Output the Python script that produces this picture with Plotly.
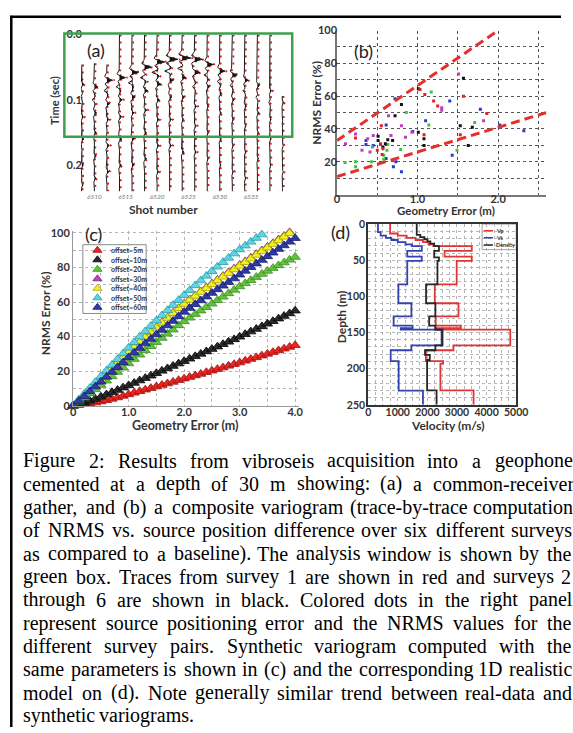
import numpy as np
import plotly.graph_objects as go

W, H = 573, 733

# ---------------- (a) common-receiver gather ----------------
SHOTS = [6508, 6510, 6512, 6514, 6516, 6518, 6520, 6522, 6524, 6526, 6528,
         6530, 6532, 6534, 6536, 6538, 6540]
TRACE_START = [0.046, 0.044, 0.046, 0.0, 0.0, 0.0, 0.0, 0.0, 0.0, 0.0, 0.0,
               0.0, 0.0, 0.0, 0.0, 0.0, 0.094]
EVENT_T = [
    [0.076, 0.096, 0.126, 0.160, 0.200, 0.230],
    [0.080, 0.100, 0.120, 0.150, 0.186, 0.220],
    [0.070, 0.086, 0.106, 0.130, 0.170, 0.210],
    [0.066, 0.080, 0.100, 0.126, 0.160, 0.200],
    [0.058, 0.074, 0.096, 0.120, 0.160, 0.200],
    [0.050, 0.066, 0.086, 0.116, 0.150, 0.190],
    [0.042, 0.058, 0.076, 0.100, 0.130, 0.170, 0.210],
    [0.038, 0.056, 0.070, 0.096, 0.130, 0.170],
    [0.036, 0.052, 0.066, 0.096, 0.130, 0.180],
    [0.038, 0.058, 0.080, 0.110, 0.140, 0.180],
    [0.046, 0.062, 0.080, 0.110, 0.150, 0.190],
    [0.056, 0.072, 0.090, 0.120, 0.160, 0.200],
    [0.062, 0.078, 0.100, 0.130, 0.170, 0.210],
    [0.070, 0.086, 0.110, 0.140, 0.180, 0.220],
    [0.078, 0.096, 0.120, 0.150, 0.190],
    [0.086, 0.104, 0.130, 0.160, 0.200],
    [0.104, 0.130, 0.170, 0.210],
]
EVENT_A = [
    [0.5, -0.4, 0.4, 0.5, 0.4, 0.3],
    [0.9, -0.6, 0.6, 0.5, 0.5, 0.4],
    [1.5, -0.8, 0.7, 0.5, 0.6, 0.5],
    [1.6, -0.9, 0.7, 0.6, 0.6, 0.5],
    [1.7, -1.0, 0.8, 0.5, 0.6, 0.5],
    [1.8, -1.1, 0.8, 0.6, 0.5, 0.5],
    [2.0, -1.4, 1.0, 0.6, 0.5, 0.5, 0.4],
    [2.2, -1.3, 1.0, 0.6, 0.5, 0.5],
    [2.3, -1.2, 1.0, 0.6, 0.4, 0.5],
    [2.0, 1.4, -0.6, 0.5, 0.4, 0.4],
    [1.6, -0.8, 0.6, 0.4, 0.4, 0.3],
    [1.4, -0.7, 0.5, 0.4, 0.4, 0.3],
    [1.3, -0.6, 0.5, 0.4, 0.3, 0.3],
    [0.9, -0.5, 0.4, 0.3, 0.3, 0.3],
    [0.6, -0.4, 0.4, 0.3, 0.3],
    [0.4, -0.3, 0.3, 0.3, 0.2],
    [0.3, 0.2, 0.2, 0.2],
]
WAVELET = [0.0, -0.05, -0.15, -0.3, -0.4, -0.2, 0.35, 1.0, 0.35, -0.2, -0.4,
           -0.3, -0.15, -0.05, 0.0]
DT = 0.002
T_MAX = 0.240
TIME_TICKS = [0.0, 0.1, 0.2]
TIME_TICK_TEXT = ["0.0", "0.1", "0.2"]
SHOT_TICKS = [6510, 6515, 6520, 6525, 6530, 6535]

# ---------------- (b) composite variogram (field data) ----------------
BLUE_X = [0.36, 0.36, 0.45, 0.61, 0.72, 0.73, 0.80, 0.94, 1.10, 1.40, 1.43, 1.78, 2.02, 2.32, 0.61, 0.70]
BLUE_Y = [33, 30.5, 30, 42.5, 58.5, 20, 14, 38.5, 45, 57, 24, 52, 42.5, 39, 22, 17]
MAGENTA_X = [0.105, 0.23, 0.31, 0.41, 0.45, 0.67, 0.64, 0.80, 0.85, 0.93, 1.30, 1.30, 1.51, 1.82, 0.38]
MAGENTA_Y = [31, 37, 27, 26, 36, 36, 48, 42, 35, 38, 53, 51.5, 73.5, 45, 34]
GREEN_X = [0.10, 0.23, 0.23, 0.43, 0.58, 0.58, 0.63, 0.86, 0.79, 1.17, 1.14, 1.49, 1.71, 0.44, 0.62]
GREEN_Y = [19.5, 20, 17, 20, 24, 21.5, 30.5, 50, 27.5, 62.5, 42.5, 27, 44, 29, 27]
BLACK_X = [0.51, 0.51, 0.57, 0.63, 0.69, 0.80, 0.72, 1.01, 1.01, 1.08, 1.08, 1.57, 1.53, 1.63, 1.68, 0.60]
BLACK_Y = [35.5, 33, 29, 33.5, 33, 55, 48, 38, 64.5, 34, 30, 71, 42, 30, 41, 31]
RED_X = [0.23, 0.54, 0.55, 0.57, 0.56, 1.03, 1.09, 1.20, 1.25, 1.08, 1.57, 1.53, 1.86, 0.50]
RED_Y = [34.5, 31, 42, 28, 24.5, 64, 61, 57, 54, 36.5, 60, 36.5, 49.5, 27]
UPPER_X = [0.0, 2.0]
UPPER_Y = [33, 100]
LOWER_X = [0.0, 2.6]
LOWER_Y = [11, 50]

# ---------------- (c) synthetic variogram ----------------
GEOM_ERR = [0.0, 0.1, 0.2, 0.3, 0.4, 0.5, 0.6, 0.7, 0.8, 0.9, 1.0, 1.1, 1.2, 1.3,
            1.4, 1.5, 1.6, 1.7, 1.8, 1.9, 2.0, 2.1, 2.2, 2.3, 2.4, 2.5, 2.6, 2.7,
            2.8, 2.9, 3.0, 3.1, 3.2, 3.3, 3.4, 3.5, 3.6, 3.7, 3.8, 3.9, 4.0]
OFFSET_NAMES = ["offset=5m", "offset=10m", "offset=20m", "offset=30m",
                "offset=40m", "offset=50m", "offset=60m"]
NRMS_5M = [0.0, 0.4, 0.9, 1.4, 1.9, 2.5, 3.2, 4.0, 4.8, 5.7, 6.6, 7.5, 8.4, 9.3,
           10.2, 11.1, 12.0, 12.9, 13.8, 14.8, 15.7, 16.6, 17.5, 18.4, 19.4, 20.3,
           21.2, 22.1, 23.1, 24.0, 25.0, 26.0, 27.0, 28.0, 29.0, 30.0, 31.0, 32.0,
           33.0, 34.0, 35.0]
NRMS_10M = [0.0, 0.8, 1.8, 2.9, 4.0, 5.2, 6.5, 7.8, 9.1, 10.5, 11.8, 13.2, 14.6,
            16.0, 17.4, 18.8, 20.2, 21.6, 23.0, 24.4, 25.8, 27.2, 28.6, 30.0, 31.4,
            32.8, 34.2, 35.6, 37.0, 38.4, 39.9, 41.4, 42.9, 44.4, 45.9, 47.4, 48.9,
            50.4, 51.9, 53.4, 55.0]
NRMS_20M = [0.0, 2.3, 4.7, 7.1, 9.5, 12.0, 14.5, 17.0, 19.5, 22.0, 24.5, 27.0,
            29.5, 32.0, 34.4, 36.8, 39.2, 41.6, 44.0, 46.5, 48.8, 50.9, 53.0, 55.0,
            57.0, 59.0, 61.0, 63.0, 65.0, 67.0, 69.0, 70.8, 72.6, 74.4, 76.2, 78.0,
            79.6, 81.2, 82.8, 84.4, 86.0]
NRMS_30M = [0.0, 3.0, 6.1, 9.2, 12.3, 15.5, 18.6, 21.7, 24.8, 27.9, 31.0, 34.0,
            36.9, 39.8, 42.6, 45.4, 48.2, 51.0, 53.7, 56.4, 59.1, 61.5, 63.8, 66.1,
            68.4, 70.6, 72.8, 75.0, 77.2, 79.3, 81.4, 83.5, 85.6, 87.7, 89.8, 91.9,
            94.0, 96.1, 98.2, 100.3]
NRMS_40M = [0.0, 3.0, 6.1, 9.2, 12.3, 15.4, 18.5, 21.6, 24.7, 27.8, 30.9, 33.8,
            36.7, 39.6, 42.4, 45.2, 48.0, 50.8, 53.5, 56.2, 58.9, 61.2, 63.5, 65.8,
            68.0, 70.2, 72.4, 74.6, 76.7, 78.8, 80.9, 83.0, 85.1, 87.2, 89.3, 91.4,
            93.5, 95.6, 97.7, 99.8]
NRMS_50M = [0.0, 3.4, 6.8, 10.2, 13.6, 17.0, 20.3, 23.6, 26.9, 30.2, 33.5, 36.7,
            39.9, 43.0, 46.1, 49.2, 52.2, 55.2, 58.2, 61.1, 64.0, 66.8, 69.6, 72.4,
            75.1, 77.8, 80.4, 83.0, 85.5, 88.0, 90.4, 92.6, 94.8, 97.0, 99.0]
NRMS_60M = [0.0, 2.7, 5.5, 8.3, 11.1, 13.9, 16.7, 19.5, 22.3, 25.1, 28.0, 30.7,
            33.4, 36.0, 38.6, 41.2, 43.8, 46.4, 49.0, 51.7, 54.3, 56.5, 58.7, 60.9,
            63.1, 65.2, 67.3, 69.4, 71.5, 73.6, 75.8, 78.0, 80.1, 82.2, 84.3, 86.4,
            88.5, 90.6, 92.7, 94.8, 96.9]
OFFSET_SERIES = [NRMS_5M, NRMS_10M, NRMS_20M, NRMS_30M, NRMS_40M, NRMS_50M, NRMS_60M]
OFFSET_COLORS = ["#e8251f", "#2b2b2b", "#62c43c", "#b847b8", "#f2f21e", "#5fd5e3", "#2f3aa6"]
OFFSET_EDGES = ["#a01010", "#000000", "#3a8a20", "#7a207a", "#a8a800", "#2a9aa8", "#18206a"]

# ---------------- (d) 1D model ----------------
VP_DEPTH = [0, 13, 16, 19, 22, 25, 28, 30.5, 37, 45, 51, 83.5, 109.5, 127.7, 140.5,
            144, 146, 167.7, 174.5, 189.5, 193, 230]
VP = [740, 1000, 1300, 1600, 1850, 2050, 2200, 3500, 2580, 3500, 2990, 2250, 3050,
      2280, 3130, 2300, 4800, 2880, 1950, 2530, 2440, 3560]
VS_DEPTH = [0, 11, 16, 19, 22, 25, 28, 30.5, 37, 45, 51, 83.5, 109.5, 127.7, 140.5,
            144, 146, 167.7, 174.5, 189.5, 230.4]
VS = [330, 420, 600, 780, 1000, 1260, 1480, 1810, 1320, 1810, 1320, 1020, 1460, 860,
      1500, 1100, 2480, 1460, 760, 1030, 1850]
DEN_DEPTH = [0, 15, 18, 21, 24, 27, 30.5, 37, 46, 51, 83.5, 109.5, 127.7, 140.5, 146,
             167.7, 174.5, 181, 188, 230]
DEN = [1640, 1760, 1900, 2000, 2100, 2230, 2390, 2230, 2390, 2340, 1955, 2270, 2060,
       2270, 2510, 2270, 1920, 2080, 1990, 2310]
MODEL_NAMES = ["Vp", "Vs", "Density"]
MODEL_COLORS = ["#e03535", "#3442b0", "#262626"]

CAPTION_LINES = [
    "Figure 2: Results from vibroseis acquisition into a geophone",
    "cemented at a depth of 30 m showing: (a) a common-receiver",
    "gather, and (b) a composite variogram (trace-by-trace computation",
    "of NRMS vs. source position difference over six different surveys",
    "as compared to a baseline). The analysis window is shown by the",
    "green box. Traces from survey 1 are shown in red and surveys 2",
    "through 6 are shown in black. Colored dots in the right panel",
    "represent source positioning error and the NRMS values for the",
    "different survey pairs. Synthetic variogram computed with the",
    "same parameters is shown in (c) and the corresponding 1D realistic",
    "model on (d). Note generally similar trend between real-data and",
    "synthetic variograms.",
]

# ====================================================================
def dx(p0, p1):
    return [p0 / W, p1 / W]


def dy(top, bottom):
    return [1 - bottom / H, 1 - top / H]


def px(x):
    return x / W


def py(y):
    return 1 - y / H


fig = go.Figure()
SANS = "Lato"
TICKFONT = dict(family=SANS, size=11, color="#333", weight="bold")
TICKFONT_D = dict(family=SANS, size=10.5, color="#333", weight="bold")

# ---- (a) wiggle traces
n = int(round(T_MAX / DT)) + 1
t = np.arange(n) * DT
half = len(WAVELET) // 2
GAIN = 0.6
for shot, t0, ets, eas in zip(SHOTS, TRACE_START, EVENT_T, EVENT_A):
    sig = np.zeros(n)
    for te, a in zip(ets, eas):
        k = int(round(te / DT))
        for j, w in enumerate(WAVELET):
            idx = k + j - half
            if 0 <= idx < n:
                sig[idx] += a * w
    m = t >= t0 - 1e-9
    tt, ss = t[m], sig[m]
    fig.add_trace(go.Scatter(x=shot + 0.2 + GAIN * 1.12 * ss, y=tt, mode="lines",
                             line=dict(color="#e02020", width=1.8, dash="2px,5px"),
                             xaxis="x", yaxis="y", showlegend=False, hoverinfo="skip"))
    pos = np.maximum(ss, 0)
    fig.add_trace(go.Scatter(x=np.concatenate([[shot], shot + GAIN * pos, [shot]]),
                             y=np.concatenate([[tt[0]], tt, [tt[-1]]]),
                             mode="lines", fill="toself", fillcolor="#111",
                             line=dict(width=0, color="#111"),
                             xaxis="x", yaxis="y", showlegend=False, hoverinfo="skip"))
    fig.add_trace(go.Scatter(x=shot + GAIN * ss, y=tt, mode="lines",
                             line=dict(color="#1a1a1a", width=1.0),
                             xaxis="x", yaxis="y", showlegend=False, hoverinfo="skip"))

# ---- (b) scatter
for xs, ys, c in [(BLUE_X, BLUE_Y, "#2a3acb"), (MAGENTA_X, MAGENTA_Y, "#c03cc0"),
                  (GREEN_X, GREEN_Y, "#3fc23f"), (BLACK_X, BLACK_Y, "#111111"),
                  (RED_X, RED_Y, "#e02222")]:
    fig.add_trace(go.Scatter(x=xs, y=ys, mode="markers",
                             marker=dict(symbol="square", size=3, color=c, line=dict(width=0)),
                             xaxis="x2", yaxis="y2", showlegend=False, hoverinfo="skip"))
for xs, ys in [(UPPER_X, UPPER_Y), (LOWER_X, LOWER_Y)]:
    fig.add_trace(go.Scatter(x=xs, y=ys, mode="lines",
                             line=dict(color="#e3302b", width=3, dash="9px,5px"),
                             xaxis="x2", yaxis="y2", showlegend=False, hoverinfo="skip",
                             cliponaxis=False))

# ---- (c) synthetic triangles
for vals, c, e in zip(OFFSET_SERIES, OFFSET_COLORS, OFFSET_EDGES):
    fig.add_trace(go.Scatter(x=GEOM_ERR[:len(vals)], y=vals, mode="markers",
                             marker=dict(symbol="triangle-up", size=9, color=c,
                                         line=dict(width=0.8, color=e)),
                             xaxis="x3", yaxis="y3", showlegend=False, hoverinfo="skip",
                             cliponaxis=False))
for i, (name, c, e) in enumerate(zip(OFFSET_NAMES, OFFSET_COLORS, OFFSET_EDGES)):
    yy = 1 - (5.7 + i * 9.67) / 70.0
    fig.add_trace(go.Scatter(x=[0.23], y=[yy], mode="markers",
                             marker=dict(symbol="triangle-up", size=8, color=c,
                                         line=dict(width=0.8, color=e)),
                             xaxis="x5", yaxis="y5", showlegend=False, hoverinfo="skip"))
    fig.add_annotation(x=0.42, y=yy, xref="x5", yref="y5", text=name, showarrow=False,
                       xanchor="left", yanchor="middle",
                       font=dict(family=SANS, size=7, color="#333", weight="bold"))

# ---- (d) model profiles
for deps, vals, c in [(VP_DEPTH, VP, MODEL_COLORS[0]), (VS_DEPTH, VS, MODEL_COLORS[1]),
                      (DEN_DEPTH, DEN, MODEL_COLORS[2])]:
    fig.add_trace(go.Scatter(x=list(vals) + [vals[-1]], y=list(deps) + [250],
                             mode="lines", line=dict(color=c, width=1.8, shape="vh"),
                             xaxis="x4", yaxis="y4", showlegend=False, hoverinfo="skip"))
for i, (name, c) in enumerate(zip(MODEL_NAMES, MODEL_COLORS)):
    yy = 1 - (6.7 + i * 7.3) / 26.0
    fig.add_trace(go.Scatter(x=[0.05, 0.32], y=[yy, yy], mode="lines",
                             line=dict(color=c, width=1.5),
                             xaxis="x6", yaxis="y6", showlegend=False, hoverinfo="skip"))
    fig.add_annotation(x=0.36, y=yy, xref="x6", yref="y6", text=name, showarrow=False,
                       xanchor="left", yanchor="middle",
                       font=dict(family=SANS, size=5.5, color="#333", weight="bold"))

# ---- axes
GRID_B = dict(showgrid=True, gridcolor="#555", griddash="dot", gridwidth=1)
GRID_C = dict(showgrid=True, gridcolor="#b5b5b5", griddash="dot", gridwidth=1)
lay = dict(
    width=W, height=H, autosize=False, margin=dict(l=0, r=0, t=0, b=0),
    paper_bgcolor="white", plot_bgcolor="rgba(0,0,0,0)", showlegend=False,
    xaxis=dict(domain=dx(80, 292), range=[6507.845, 6540.78], tickvals=SHOT_TICKS,
               tickfont=dict(family=SANS, size=6.5, color="#777", style="italic"),
               showgrid=False, zeroline=False, showline=False, ticks="",
               anchor="y", ticklabelstandoff=0),
    yaxis=dict(domain=dy(28, 188), range=[0.2406, 0], tickvals=TIME_TICKS,
               ticktext=TIME_TICK_TEXT, tickfont=TICKFONT, showgrid=False,
               zeroline=False, showline=False, ticks="", anchor="x",
               ticklabelstandoff=-2),
    xaxis2=dict(domain=dx(343, 558), range=[0, 2.6], tickvals=[0, 1, 2],
                ticktext=["0", "1.0", "2.0"], tickfont=TICKFONT, zeroline=False,
                showline=True, linecolor="#777", linewidth=1.5, ticks="", anchor="y2",
                ticklabelstandoff=-7,
                minor=dict(dtick=0.5, **GRID_B), **GRID_B),
    yaxis2=dict(domain=dy(24, 191), range=[0, 100], tickvals=[20, 40, 60, 80, 100],
                tickfont=TICKFONT, zeroline=False, showline=True, linecolor="#777",
                linewidth=1.5, ticks="", anchor="x2", ticklabelstandoff=-4,
                minor=dict(dtick=10, **GRID_B), **GRID_B),
    xaxis3=dict(domain=dx(72, 304), range=[0, 4.07], tickvals=[0, 1, 2, 3, 4],
                ticktext=["0", "1.0", "2.0", "3.0", "4.0"], tickfont=TICKFONT,
                zeroline=False, showline=True, linecolor="#999", linewidth=1.2,
                ticks="", anchor="y3", ticklabelstandoff=-4,
                minor=dict(dtick=0.5, **GRID_C), **GRID_C),
    yaxis3=dict(domain=dy(228, 406), range=[0, 101.1], tickvals=[0, 20, 40, 60, 80, 100],
                tickfont=TICKFONT, zeroline=False, showline=True, linecolor="#999",
                linewidth=1.2, ticks="", anchor="x3", ticklabelstandoff=0,
                minor=dict(dtick=10, **GRID_C), **GRID_C),
    xaxis4=dict(domain=dx(375, 527), range=[0, 5000], dtick=1000, tickfont=TICKFONT_D,
                zeroline=False, showline=True, mirror=True, linecolor="#333",
                linewidth=2, ticks="", anchor="y4", ticklabelstandoff=-3,
                minor=dict(dtick=250, **GRID_C), **GRID_C),
    yaxis4=dict(domain=dy(221, 405), range=[250, 0], dtick=50, tickfont=TICKFONT_D,
                zeroline=False, showline=True, mirror=True, linecolor="#333",
                linewidth=2, ticks="", anchor="x4", ticklabelstandoff=-1,
                minor=dict(dtick=10, **GRID_C), **GRID_C),
    xaxis5=dict(domain=dx(82, 147), range=[0, 1], visible=False, anchor="y5"),
    yaxis5=dict(domain=dy(242, 312), range=[0, 1], visible=False, anchor="x5"),
    xaxis6=dict(domain=dx(492, 527), range=[0, 1], visible=False, anchor="y6"),
    yaxis6=dict(domain=dy(221, 247), range=[0, 1], visible=False, anchor="x6"),
)
fig.update_layout(**lay)

shapes = []
shapes.append(dict(type="line", xref="paper", yref="paper", x0=px(8.5), x1=px(8.5),
                   y0=0, y1=py(9), line=dict(color="black", width=2.5)))
shapes.append(dict(type="line", xref="paper", yref="paper", x0=px(7.3), x1=1,
                   y0=py(10), y1=py(10), line=dict(color="black", width=2.5)))
shapes.append(dict(type="rect", xref="paper", yref="paper", x0=px(63), x1=px(297),
                   y0=py(132), y1=py(27), line=dict(color="#3ea04c", width=2.5)))
shapes.append(dict(type="rect", xref="paper", yref="paper", x0=px(82), x1=px(147),
                   y0=py(312), y1=py(242), fillcolor="white",
                   line=dict(color="#8a8a8a", width=1), layer="below"))
shapes.append(dict(type="rect", xref="paper", yref="paper", x0=px(492), x1=px(527),
                   y0=py(247), y1=py(221), fillcolor="white",
                   line=dict(color="#8a8a8a", width=0.8), layer="below"))
fig.update_layout(shapes=shapes)


def ann(x, y, text, size, weight="normal", angle=0, color="#222", family=SANS):
    fig.add_annotation(x=px(x), y=py(y), xref="paper", yref="paper", text=text,
                       showarrow=False, textangle=angle, xanchor="center",
                       yanchor="middle",
                       font=dict(family=family, size=size, color=color, weight=weight))


ann(96, 44, "(a)", 18)
ann(370, 45, "(b)", 18)
ann(93, 231, "(c)", 18)
ann(347, 229, "(d)", 18)
ann(53, 95, "Time (sec)", 11, "bold", -90, "#333")
ann(165, 206, "Shot number", 12, "bold", 0, "#333")
ann(322, 98, "NRMS Error (%)", 12, "bold", -90, "#333")
ann(455, 207, "Geometry Error (m)", 11.5, "bold", 0, "#333")
ann(44, 312, "NRMS Error (%)", 12, "bold", -90, "#333")
ann(187, 426, "Geometry Error (m)", 12.5, "bold", 0, "#333")
ann(347, 315, "Depth (m)", 12, "bold", -90, "#333")
ann(457, 426, "Velocity (m/s)", 12, "bold", 0, "#333")

# ---- caption, justified with Times metrics
TW = {' ': 250, '!': 333, '(': 333, ')': 333, ',': 250, '-': 333, '.': 250, ':': 278,
      'A': 722, 'B': 667, 'C': 667, 'D': 722, 'E': 611, 'F': 556, 'G': 722, 'H': 722,
      'I': 333, 'J': 389, 'K': 722, 'L': 611, 'M': 889, 'N': 722, 'O': 722, 'P': 556,
      'Q': 722, 'R': 667, 'S': 556, 'T': 611, 'U': 722, 'V': 722, 'W': 944, 'X': 722,
      'Y': 722, 'Z': 611, 'a': 444, 'b': 500, 'c': 444, 'd': 500, 'e': 444, 'f': 333,
      'g': 500, 'h': 500, 'i': 278, 'j': 278, 'k': 500, 'l': 278, 'm': 778, 'n': 500,
      'o': 500, 'p': 500, 'q': 500, 'r': 333, 's': 389, 't': 278, 'u': 500, 'v': 500,
      'w': 722, 'x': 500, 'y': 500, 'z': 444}
CAP_SIZE = 20
CAP_L, CAP_R = 20, 582
CAP_Y0, CAP_DY = 462, 23.6
for li, line in enumerate(CAPTION_LINES):
    words = line.split(" ")
    widths = [sum(TW.get(ch, 500) for ch in w) * CAP_SIZE / 1000 for w in words]
    if li < len(CAPTION_LINES) - 1:
        gap = (CAP_R - CAP_L - sum(widths)) / (len(words) - 1)
    else:
        gap = 250 * CAP_SIZE / 1000
    x = CAP_L
    yy = CAP_Y0 + li * CAP_DY
    for w, wd in zip(words, widths):
        fig.add_annotation(x=px(x), y=py(yy), xref="paper", yref="paper", text=w,
                           showarrow=False, xanchor="left", yanchor="middle",
                           borderpad=0,
                           font=dict(family="Liberation Serif", size=CAP_SIZE,
                                     color="black"))
        x += wd + gap

fig.write_html("out.html", config={"displayModeBar": False})
